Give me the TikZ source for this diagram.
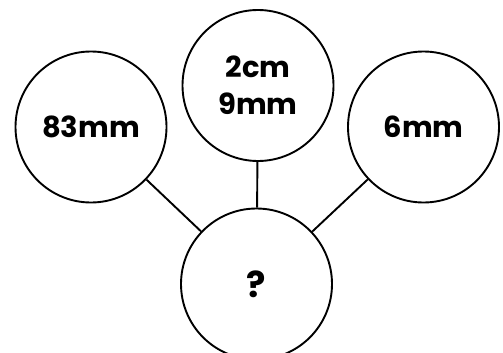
\documentclass[tikz,border=0pt]{standalone}
\usepackage{fontspec}
\setmainfont{Poppins}
\begin{document}
\begin{tikzpicture}[x=1pt,y=-1pt,
  bubble/.style={draw=black,line width=1.9pt,circle,minimum size=151pt,inner sep=0pt,fill=white,
    font=\fontsize{29}{37}\selectfont\bfseries,align=center},
  link/.style={draw=black,line width=1.9pt}]
\useasboundingbox (0,0) rectangle (503,353);
\node[bubble] (l) at (91,127) {83mm};
\node[bubble] (m) at (258,85.5) {2cm\\9mm};
\node[bubble] (r) at (423.5,127) {6mm};
\node[bubble,font=\fontsize{36}{40}\selectfont\bfseries] (b) at (256.5,284) {?};
\draw[link] (l) -- (b);
\draw[link] (m) -- (b);
\draw[link] (r) -- (b);
\end{tikzpicture}
\end{document}
